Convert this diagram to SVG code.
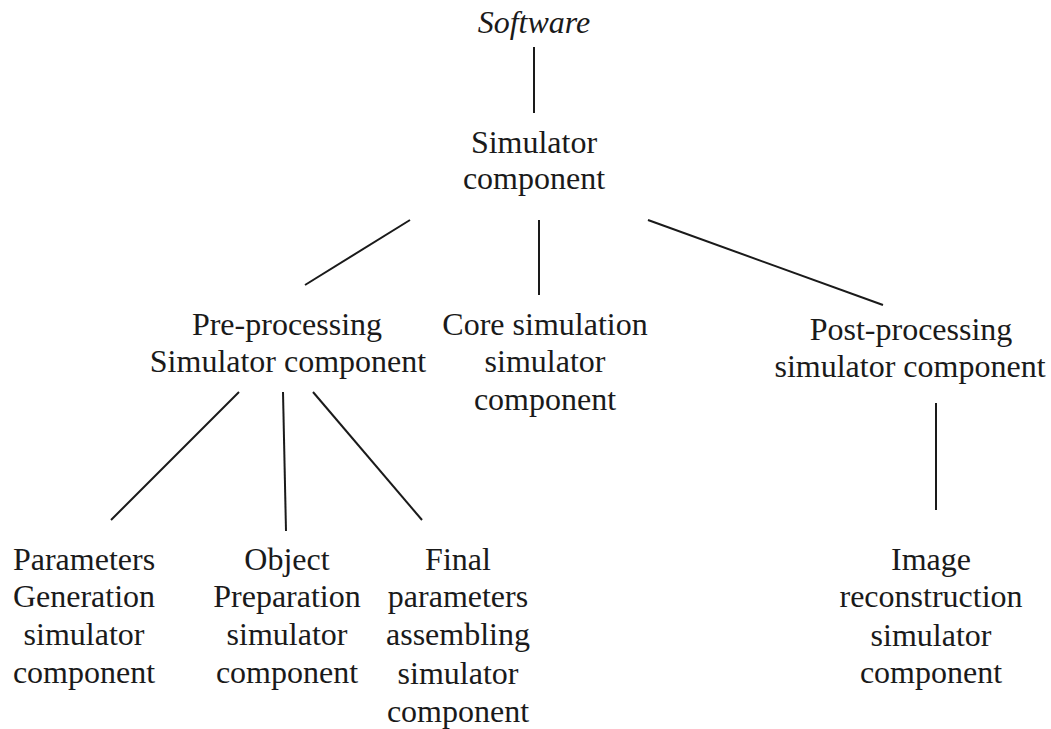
<svg xmlns="http://www.w3.org/2000/svg" width="1051" height="729" viewBox="0 0 1051 729">
<style>
text{font-family:"Liberation Serif","Times New Roman",serif;font-size:32px;fill:#1a1a1a;text-anchor:middle}
.it{font-style:italic}
.conn line{stroke:#1a1a1a;stroke-width:2;fill:none}
</style>
<rect width="1051" height="729" fill="#fff"/>
<g id="software"><text class="it" x="534" y="33">Software</text></g>
<g id="simulator"><text x="534" y="153">Simulator</text><text x="534" y="189">component</text></g>
<g id="pre"><text x="287" y="335">Pre-processing</text><text x="288" y="372">Simulator component</text></g>
<g id="core"><text x="545" y="335">Core simulation</text><text x="545" y="372">simulator</text><text x="545" y="410">component</text></g>
<g id="post"><text x="911" y="340">Post-processing</text><text x="910" y="377">simulator component</text></g>
<g id="params"><text x="84" y="570">Parameters</text><text x="84" y="607">Generation</text><text x="84" y="645">simulator</text><text x="84" y="683">component</text></g>
<g id="object"><text x="287" y="570">Object</text><text x="287" y="607">Preparation</text><text x="287" y="645">simulator</text><text x="287" y="683">component</text></g>
<g id="final"><text x="458" y="570">Final</text><text x="458" y="607">parameters</text><text x="458" y="645">assembling</text><text x="458" y="684">simulator</text><text x="458" y="722">component</text></g>
<g id="image"><text x="931" y="570">Image</text><text x="931" y="607">reconstruction</text><text x="931" y="646">simulator</text><text x="931" y="683">component</text></g>
<g class="conn" id="connectors">
<line x1="534" y1="47" x2="534" y2="113"/>
<line x1="410" y1="220" x2="305" y2="285"/>
<line x1="539" y1="220" x2="539" y2="295"/>
<line x1="648" y1="220" x2="883" y2="305"/>
<line x1="239" y1="392" x2="111" y2="520"/>
<line x1="283" y1="392" x2="286" y2="531"/>
<line x1="313" y1="392" x2="422" y2="520"/>
<line x1="936" y1="403" x2="936" y2="510"/>
</g>
</svg>
